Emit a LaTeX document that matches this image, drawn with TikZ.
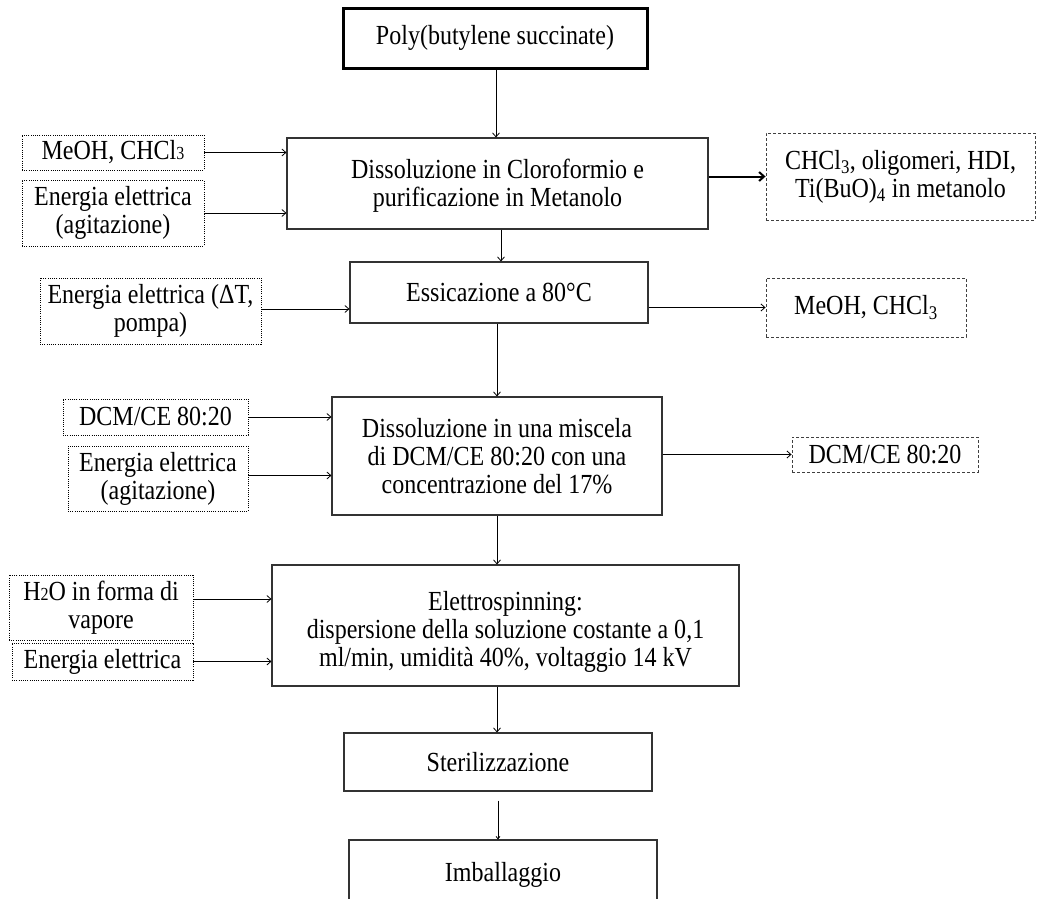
\documentclass[tikz,border=0pt]{standalone}
\usepackage{fontspec}
\setmainfont{Liberation Serif}[FakeStretch=0.87]
\usetikzlibrary{arrows.meta}
\newcommand{\smalldig}[1]{{\fontsize{18.4}{18.4}\selectfont #1}}
\begin{document}
\begin{tikzpicture}[x=1pt,y=-1pt,font=\fontsize{27.6}{28}\selectfont,
  pbox/.style={draw=black!80, line width=1.1pt, align=center, inner sep=0pt},
  inbox/.style={draw=black, line width=0.9pt, dash pattern=on 1pt off 1.2pt, align=center, inner sep=0pt},
  outbox/.style={draw=black!75, line width=0.9pt, dash pattern=on 3pt off 2pt, align=center, inner sep=0pt},
  conn/.style={draw, line width=0.8pt, -{Straight Barb[length=4pt,width=7pt]}},
  thickconn/.style={draw, line width=2pt, -{Straight Barb[length=5pt,width=9pt]}}]
\clip (0,0) rectangle (1037,898);
\fill[white] (0,0) rectangle (1037,898);

% main column
\node[pbox, draw=black, line width=3pt, minimum width=304, minimum height=60] (poly) at (495,38) {Poly(butylene succinate)};
\node[pbox, minimum width=421, minimum height=91] (dis1) at (497.5,183.5) {};
\node[align=center, inner sep=0pt] (dis1t) at (497.5,186) {Dissoluzione in Cloroformio e\\purificazione in Metanolo};
\node[pbox, minimum width=298, minimum height=61] (ess) at (499,292.5) {Essicazione a 80°C};
\node[pbox, minimum width=330, minimum height=118] (dcm) at (497,456) {Dissoluzione in una miscela\\di DCM/CE 80:20 con una\\concentrazione del 17\%};
\node[pbox, minimum width=467, minimum height=121] (el) at (505.5,625.5) {};
\node[align=center, inner sep=0pt] (elt) at (505.5,632) {Elettrospinning:\\dispersione della soluzione costante a 0,1\\ml/min, umidità 40\%, voltaggio 14 kV};
\node[pbox, minimum width=308, minimum height=58] (ster) at (498,762) {Sterilizzazione};
\node[pbox, minimum width=308, minimum height=70] (imb) at (503,875) {Imballaggio};

% inputs
\node[inbox, minimum width=182, minimum height=35] (in1) at (113,152.5) {MeOH, CHCl\smalldig{3}};
\node[inbox, minimum width=182, minimum height=66] (in2) at (113,213) {Energia elettrica\\(agitazione)};
\node[inbox, minimum width=221, minimum height=66] (in3) at (150.5,311) {Energia elettrica (ΔT,\\pompa)};
\node[inbox, minimum width=185, minimum height=36] (in4) at (155.5,417) {DCM/CE 80:20};
\node[inbox, minimum width=180, minimum height=65] (in5) at (158,478.5) {Energia elettrica\\(agitazione)};
\node[inbox, minimum width=184, minimum height=65] (in6) at (101,607.5) {H\smalldig{2}O in forma di\\vapore};
\node[inbox, minimum width=181, minimum height=37] (in7) at (102.5,661.5) {Energia elettrica};

% outputs
\node[outbox, minimum width=269, minimum height=87] (out1) at (900.5,176.5) {CHCl\textsubscript{3}, oligomeri, HDI,\\Ti(BuO)\textsubscript{4} in metanolo};
\node[outbox, minimum width=200, minimum height=59] (out2) at (866,307.5) {MeOH, CHCl\textsubscript{3}};
\node[outbox, minimum width=186, minimum height=35] (out3) at (885,454.5) {DCM/CE 80:20};

% axis coordinates for vertical connectors
\coordinate (a1) at (496,0);
\coordinate (a2) at (501,0);
\coordinate (a3) at (497,0);
\coordinate (a4) at (498,0);

\draw[conn] (poly.south -| a1) -- (dis1.north -| a1);
\draw[conn] (dis1.south -| a2) -- (ess.north -| a2);
\draw[conn] (ess.south -| a3) -- (dcm.north -| a3);
\draw[conn] (dcm.south -| a3) -- (el.north -| a3);
\draw[conn] (el.south -| a3) -- (ster.north -| a3);
\draw[conn, shorten <=9pt, -{Straight Barb[length=2.5pt,width=4pt]}] (ster.south -| a4) -- (imb.north -| a4);

% input connectors
\draw[conn] (in1.east) -- (in1.east -| dis1.west);
\draw[conn] (in2.east) -- (in2.east -| dis1.west);
\draw[conn] ([yshift=2pt]in3.east) -- ([yshift=2pt]in3.east -| ess.west);
\draw[conn] (in4.east) -- (in4.east -| dcm.west);
\draw[conn] ([yshift=3pt]in5.east) -- ([yshift=3pt]in5.east -| dcm.west);
\draw[conn] ([yshift=8.5pt]in6.east) -- ([yshift=8.5pt]in6.east -| el.west);
\draw[conn] (in7.east) -- (in7.east -| el.west);

% output connectors
\draw[thickconn] (out1.west -| dis1.east) -- (out1.west);
\draw[conn] (out2.west -| ess.east) -- (out2.west);
\draw[conn] (out3.west -| dcm.east) -- (out3.west);
\end{tikzpicture}
\end{document}
